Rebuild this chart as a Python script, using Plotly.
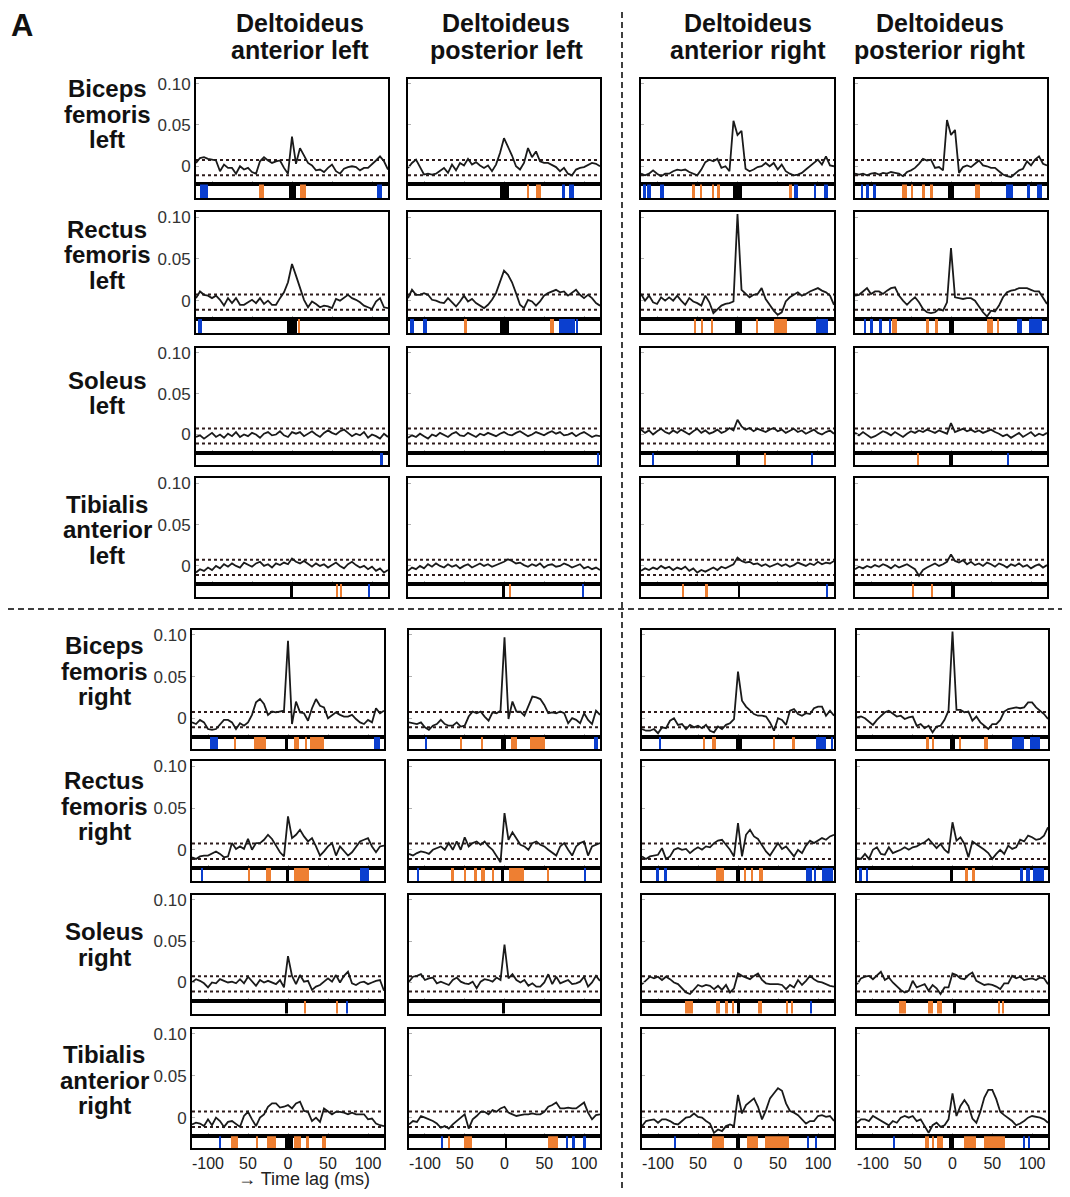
import plotly.graph_objects as go

# ---------------- data ----------------
LAGS = list(range(-120, 121, 5))          # time lag (ms)
X_RANGE = [-120, 120]
Y_RANGE = [-0.022, 0.106]
THR_HI = 0.0075                           # significance limits
THR_LO = -0.011
Y_TICKS = [0, 0.05, 0.10]
Y_TICKTEXT = ["0", "0.05", "0.10"]
X_TICKS = [-100, -50, 0, 50, 100]
X_TICKTEXT = ["-100", "50", "0", "50", "100"]

COL_TITLES = [["Deltoideus", "anterior left"], ["Deltoideus", "posterior left"],
              ["Deltoideus", "anterior right"], ["Deltoideus", "posterior right"]]
ROW_TITLES = [["Biceps", "femoris", "left"], ["Rectus", "femoris", "left"],
              ["Soleus", "left"], ["Tibialis", "anterior", "left"],
              ["Biceps", "femoris", "right"], ["Rectus", "femoris", "right"],
              ["Soleus", "right"], ["Tibialis", "anterior", "right"]]

# cross-correlation values (x 1e-3), one list per deltoid column
BF_L = [
    [4,10,11,9,8,7,-6,2,-2,-2,-9,0,-4,-2,-7,-9,6,11,7,4,6,7,-2,-9,36,3,22,12,4,1,-5,-4,-7,-2,2,-6,-9,-3,-1,0,-1,-5,-2,-2,2,7,12,6,-4],
    [-2,4,8,-2,-10,-9,-10,-9,-6,-2,-8,2,-5,4,1,9,2,5,1,-2,1,-6,2,16,34,24,13,0,-4,4,22,11,18,6,4,4,1,-1,-6,-2,-9,-11,-4,-2,-1,2,4,3,0],
    [-9,-11,-9,-5,-9,-12,-9,-9,-6,-4,-5,-4,-7,-9,-11,-4,5,8,6,9,-2,0,-6,55,38,43,-3,-6,-4,-1,0,4,0,4,-4,2,-6,-9,-11,-10,-8,-4,0,4,8,2,12,1,0],
    [-9,-10,-9,-11,-9,-8,-10,-8,-9,-7,-8,-9,-12,-7,-5,-2,3,9,7,8,-2,-1,-5,56,38,44,-8,-1,1,-1,3,7,1,0,-2,-2,-6,-10,-12,-13,-9,-5,-3,6,1,8,12,3,1],
]
RF_L = [
    [3,11,7,6,3,6,1,-6,3,-3,3,-5,-5,-2,1,-3,3,-4,0,-5,-5,3,10,22,44,30,14,1,-8,-1,-4,-8,-6,-7,-9,2,0,3,7,3,1,-2,-6,-8,-10,-1,3,-8,-9],
    [3,13,7,7,9,7,1,0,-2,-3,3,-2,-7,-1,6,-1,2,-3,-6,-9,-5,1,9,22,36,31,22,9,-5,-9,1,-1,-6,-1,6,9,11,13,10,11,6,10,13,7,3,7,3,-3,-6],
    [8,0,6,-2,-4,4,0,4,0,6,0,-5,3,-1,-3,-6,6,-2,-15,-10,-6,-4,-3,-1,104,13,8,4,7,8,15,2,-5,-12,-17,-14,-1,4,7,10,6,8,11,13,15,12,10,6,-5],
    [6,7,11,15,8,11,11,8,12,15,16,6,0,-5,0,4,-2,-10,-14,-15,-14,-10,-12,-2,63,4,3,2,3,3,0,-7,-14,-19,-12,-13,-6,4,10,12,13,15,15,15,13,11,11,4,-4],
]
SOL_L = [
    [-3,-1,-5,-2,2,-3,0,-4,1,-2,3,-3,0,-2,2,0,-4,1,3,-1,0,4,-1,-3,3,1,3,-2,1,4,0,-3,2,5,2,0,4,6,2,-2,1,-1,3,-4,0,-2,-5,1,-3],
    [-4,-1,-3,1,-2,-5,0,-2,2,-1,-3,1,3,-1,-2,2,0,-3,1,-1,2,0,-2,1,3,0,-1,2,4,1,-2,0,3,1,-1,2,4,1,3,-1,0,2,-2,1,3,0,-3,-1,-2],
    [6,2,5,0,4,7,3,1,5,2,6,3,0,4,7,2,5,1,3,6,2,4,8,5,18,10,6,8,4,7,5,3,6,8,4,6,2,5,7,3,5,1,4,6,2,0,3,5,1],
    [2,-1,3,0,-4,-2,1,4,2,-1,3,0,-3,1,4,2,5,3,6,4,2,5,3,1,14,3,5,7,4,6,3,5,2,4,6,3,1,-2,0,-4,-1,2,-3,0,3,-2,1,-1,2],
]
TA_L = [
    [-8,-4,-6,-2,-5,0,-3,2,-1,3,0,-2,4,1,-1,3,5,0,2,-2,3,1,4,2,9,5,3,6,2,-1,3,0,2,-2,1,4,0,-3,2,5,1,-2,0,-4,-1,-6,-3,-8,-5],
    [-6,-2,-4,0,-3,2,-1,3,0,-2,2,-1,1,-3,0,2,-2,1,3,0,2,-1,1,3,5,8,6,3,4,1,-1,2,0,3,-2,1,2,-1,0,3,1,-2,0,2,-3,-1,-4,-2,-5],
    [-6,-3,-5,-2,-4,0,-3,-1,-5,-2,-4,-1,-6,-3,-8,-5,-7,-4,-2,-5,-1,-3,0,2,10,6,4,5,2,3,0,2,-1,1,3,0,2,-1,1,4,2,0,3,1,5,2,4,3,6],
    [-4,-1,-3,0,-2,1,-1,2,0,-3,1,-2,0,2,-1,-4,-12,-5,-2,1,3,0,2,5,14,6,4,7,2,5,1,3,0,4,2,-1,3,1,-2,2,0,3,-1,1,-3,0,2,-2,1],
]
BF_R = [
    [-5,-7,-2,-5,-13,-14,-13,-7,-2,-2,-5,-13,-6,-9,-5,4,19,23,17,4,8,7,8,9,93,-7,20,7,6,-3,12,23,15,13,0,3,7,4,2,2,4,-1,-5,-7,-2,-5,12,6,9],
    [-5,-6,-7,-5,-11,-14,-9,-7,-2,-7,-9,-9,-5,-10,-9,2,8,6,8,2,-3,7,6,9,97,-1,20,8,8,3,14,26,25,23,16,6,7,6,8,6,-6,0,-2,-6,6,-2,-7,9,4],
    [-13,-15,-15,-13,-18,-11,-12,-3,0,-8,-7,-13,-8,-11,-9,-12,-8,-15,-17,-10,-13,-8,-6,-1,56,21,14,9,5,3,3,2,-5,-15,0,-2,-8,9,11,5,3,6,5,12,14,14,3,9,3],
    [1,2,0,-4,-8,-2,3,7,9,5,2,3,-1,1,2,-9,-7,-12,-9,-17,-10,-9,-2,9,104,10,10,7,8,-3,2,-5,-9,-13,-7,-7,-2,8,11,12,13,12,13,19,19,13,9,5,-1],
]
RF_R = [
    [-9,-11,-8,-7,-7,-4,-2,-5,-9,-8,8,1,4,1,13,0,8,8,12,18,13,5,-3,-8,40,14,18,24,16,10,14,4,-7,-2,4,8,-7,4,-2,-7,-3,4,10,12,14,4,-3,4,5],
    [-5,-7,-4,-2,-3,-5,0,2,4,0,8,0,10,0,15,4,8,10,6,10,4,0,-7,-15,44,12,21,14,6,4,0,8,10,6,4,0,-3,-7,4,8,0,-7,4,8,10,-7,4,6,8],
    [-8,-11,-8,-7,-6,2,-11,-8,0,2,0,1,-4,0,3,0,4,3,8,11,12,6,0,-8,32,-8,18,24,16,13,6,-2,-7,0,8,1,4,-2,-8,0,-4,5,11,8,11,14,12,16,18],
    [-10,-11,-5,-11,0,3,-5,-6,3,-4,-2,0,3,0,3,4,7,9,13,7,2,7,0,-4,33,11,15,7,-9,10,7,3,0,-4,-11,-5,0,-5,5,1,3,12,10,17,15,12,13,17,27],
]
SOL_R = [
    [0,4,2,-1,-6,0,-1,4,2,0,1,-1,4,-1,7,1,-4,3,0,2,0,-2,3,-6,32,8,-2,9,1,2,-9,-5,-3,1,5,1,9,0,8,13,-1,-3,0,1,-2,0,2,3,-10],
    [1,7,8,10,3,5,6,-1,1,-1,-3,3,6,1,-1,-2,1,-7,1,4,3,1,6,3,46,5,10,3,0,3,-4,-1,-5,-5,0,10,-2,7,-1,1,3,-2,-1,1,7,-5,0,8,2],
    [-2,3,7,5,7,3,7,4,0,-2,-7,-12,-14,-8,-3,-5,-3,-4,-8,-4,-9,-3,-12,-7,11,8,6,4,8,11,3,-1,-2,-2,-2,-3,-8,-3,-6,3,-3,2,8,4,1,0,-2,-4,-5],
    [-2,5,7,8,4,9,13,3,6,0,-5,-9,-12,-10,2,-6,-4,-2,-10,-3,-7,-14,-6,-6,11,9,5,4,9,12,2,-1,-3,-2,-3,-5,-8,-1,-1,8,5,7,3,4,5,3,6,5,-2],
]
TA_R = [
    [-8,-6,-7,-10,-2,-9,0,-4,-11,-5,-4,-7,-11,2,7,-2,-10,0,4,13,17,17,12,13,15,11,17,19,8,7,-4,0,-5,11,7,4,7,7,6,4,6,4,4,4,-2,-1,-7,-9,-10],
    [-8,-4,-5,2,0,-2,-4,-7,-12,-10,-13,-8,-4,0,4,-13,-2,2,7,7,4,9,7,11,13,6,4,2,3,4,4,5,4,4,7,13,15,18,11,11,12,11,11,15,18,6,-2,3,4],
    [-10,-4,-3,-2,-6,-2,-2,-4,-7,-8,-4,0,1,5,1,0,-4,-7,-18,-14,-16,-10,-8,-10,27,5,15,19,23,13,-2,9,23,29,35,32,17,8,6,3,-2,-7,-4,-4,2,3,1,2,-4],
    [-6,-2,-2,-4,2,-1,-4,-7,-9,-4,-6,0,2,0,2,-4,-2,-10,-18,-9,-6,-11,-9,-2,29,2,14,21,14,-1,-6,7,24,33,33,22,7,3,0,-4,-9,-7,-4,0,2,1,0,-2,-6],
]
XCORR = [BF_L, RF_L, SOL_L, TA_L, BF_R, RF_R, SOL_R, TA_R]

# significance strips: lag intervals [start, end] (ms)
BLUE = [
    [[[-115,-105],[106,112]], [[72,76],[81,88]], [[-117,-114],[-112,-107],[-96,-91],[70,75],[96,98],[107,112]], [[-113,-110],[-106,-103],[-97,-94],[69,78],[95,99],[107,114]]],
    [[[-118,-113]], [[-117,-112],[-101,-96],[69,89],[91,93]], [[98,113]], [[-109,-106],[-101,-97],[-90,-86],[-77,-76],[82,89],[98,114]]],
    [[[110,114]], [[116,119]], [[-106,-104],[92,93]], [[71,72]]],
    [[[95,97]], [[98,100]], [[111,113]], []],
    [[[-98,-87],[108,115]], [[-100,-97],[112,118]], [[-99,-96],[97,110],[116,119]], [[75,90],[97,110]]],
    [[[-109,-106],[90,101]], [[-110,-107],[100,102]], [[-102,-99],[-92,-89],[85,92],[96,98],[105,119]], [[-117,-114],[-108,-106],[85,88],[92,98],[101,115]]],
    [[[72,75]], [], [[91,93]], []],
    [[[-86,-84]], [[-80,-77],[78,80],[86,88],[99,103]], [[-80,-78],[87,89],[96,99]], [[-74,-73],[89,91],[95,98]]],
]
ORANGE = [
    [[[-41,-35],[10,18]], [[29,31],[40,46]], [[-57,-53],[-46,-44],[-32,-29],[-25,-22],[64,68]], [[-61,-55],[-49,-47],[-36,-33],[-26,-22],[30,36]]],
    [[[8,10]], [[-50,-46],[58,62]], [[-54,-51],[-46,-43],[-33,-30],[24,26],[45,61]], [[-74,-67],[-31,-28],[-20,-16],[45,52],[58,60]]],
    [[], [], [[33,35]], [[-42,-40]]],
    [[[55,57],[60,62]], [[7,9]], [[-69,-67],[-41,-37]], [[-48,-46],[-25,-23]]],
    [[[-67,-66],[-43,-28],[7,14],[22,24],[28,45]], [[-55,-53],[-30,-27],[8,16],[32,51]], [[-44,-41],[-33,-28],[44,46],[67,71]], [[-33,-30],[-26,-23],[9,11],[40,45]]],
    [[[-50,-47],[-27,-21],[7,26]], [[-67,-63],[-51,-48],[-38,-35],[-30,-25],[-16,-13],[6,25],[53,56]], [[-27,-18],[8,10],[17,19],[26,31]], [[16,19],[24,28]]],
    [[[21,23],[60,62]], [], [[-66,-56],[-27,-22],[-16,-12],[-8,-5],[25,30],[60,62],[67,69]], [[-67,-58],[-31,-25],[-19,-13],[58,60],[63,65]]],
    [[[-71,-63],[-40,-37],[-26,-15],[8,16],[22,26],[43,48]], [[-71,-68],[-51,-41],[55,67]], [[-33,-17],[11,25],[34,64]], [[-35,-29],[-25,-23],[-19,-12],[15,29],[40,66]]],
]
BLACK = [
    [[[-4,5]], [[-5,6]], [[-5,5]], [[-4,4]]],
    [[[-6,6]], [[-5,6]], [[-3,5]], [[-3,4]]],
    [[], [], [[-2,3]], [[-2,2]]],
    [[[-2,1]], [[-2,1]], [[0,3]], [[0,5]]],
    [[[-4,0]], [[-4,2]], [[-2,5]], [[-3,3]]],
    [[[-3,1]], [[-4,-1]], [[-2,2]], [[-3,0]]],
    [[[-4,0]], [[-3,0]], [[-1,3]], [[1,5]]],
    [[[-4,6]], [[1,3]], [[-3,2]], [[-4,2]]],
]

for grp in XCORR:
    for s in grp:
        assert len(s) == len(LAGS), len(s)

# ---------------- geometry (page pixels) ----------------
PAGE_W, PAGE_H = 1070, 1197
BODY_MARGIN = 8                       # default html body margin
W, H = PAGE_W - 2 * BODY_MARGIN, PAGE_H - 2 * BODY_MARGIN
ROW_PX = [(75, 181, 195), (209, 316, 330), (345, 450, 463), (476, 582, 595),
          (628, 735, 748), (760, 867, 880), (894, 1000, 1013), (1028, 1136, 1148)]
COL_PX_TOP = [(196, 388), (408, 600), (641, 834), (855, 1047)]
COL_PX_BOT = [(192, 384), (409, 600), (642, 834), (857, 1048)]
ROW_LABEL_Y = [[88, 114, 139], [229, 254, 280], [381, 406], [505, 530, 556],
               [647, 673, 698], [782, 808, 833], [934, 960], [1057, 1083, 1108]]
COL_CENTERS = [300, 506, 748, 940]
HEADER_Y = [19, 46]
ROW_NUDGE = -3                         # vertical correction for label baselines

FONT = "Liberation Sans, Arial, Helvetica, sans-serif"
C_BLUE = "#0b3fcf"
C_ORANGE = "#ee7f32"
C_LINE = "#1a1a1a"
C_THR = "#2e1c1c"


def fx(p):
    return (p - BODY_MARGIN) / W


def fy(p):
    return 1 - (p - BODY_MARGIN) / H


fig = go.Figure()
layout_axes = {}

for r in range(8):
    top, bot, sbot = ROW_PX[r]
    cols = COL_PX_TOP if r < 4 else COL_PX_BOT
    for c in range(4):
        left, right = cols[c]
        idx = r * 4 + c
        n_main = 2 * idx + 1
        n_strip = 2 * idx + 2
        xm = "x" if n_main == 1 else f"x{n_main}"
        ym = "y" if n_main == 1 else f"y{n_main}"
        xs, ys = f"x{n_strip}", f"y{n_strip}"

        vals = [v / 1000 for v in XCORR[r][c]]
        for thr in (THR_HI, THR_LO):
            fig.add_trace(go.Scatter(x=X_RANGE, y=[thr, thr], mode="lines",
                                     line=dict(color=C_THR, width=2, dash="dot"),
                                     xaxis=xm, yaxis=ym, hoverinfo="skip"))
        fig.add_trace(go.Scatter(x=LAGS, y=vals, mode="lines",
                                 line=dict(color=C_LINE, width=1.8),
                                 xaxis=xm, yaxis=ym))

        for ivs, col in ((BLUE[r][c], C_BLUE), (ORANGE[r][c], C_ORANGE), (BLACK[r][c], "#000000")):
            if not ivs:
                continue
            fig.add_trace(go.Bar(x=[(a + b) / 2 for a, b in ivs],
                                 width=[b - a for a, b in ivs],
                                 y=[1] * len(ivs), base=0,
                                 marker=dict(color=col, line=dict(width=0)),
                                 xaxis=xs, yaxis=ys, hoverinfo="skip"))

        frame = dict(showline=True, linecolor="black", linewidth=2, mirror=True,
                     showgrid=False, zeroline=False, fixedrange=True)
        layout_axes["xaxis" if n_main == 1 else f"xaxis{n_main}"] = dict(
            domain=[fx(left), fx(right)], range=X_RANGE, anchor=ym,
            ticks="inside", ticklen=3, tickwidth=1, tickcolor="#b0b0b0",
            tickvals=X_TICKS, showticklabels=False, **frame)
        layout_axes["yaxis" if n_main == 1 else f"yaxis{n_main}"] = dict(
            domain=[fy(bot), fy(top)], range=Y_RANGE, anchor=xm,
            ticks="inside", ticklen=3, tickwidth=1, tickcolor="#b0b0b0",
            tickvals=Y_TICKS, ticktext=Y_TICKTEXT, showticklabels=(c == 0),
            tickfont=dict(family=FONT, size=17, color="#333333"), **frame)
        layout_axes[f"xaxis{n_strip}"] = dict(
            domain=[fx(left), fx(right)], range=X_RANGE, anchor=ys,
            ticks="", tickvals=X_TICKS, ticktext=X_TICKTEXT,
            showticklabels=(r == 7),
            tickfont=dict(family=FONT, size=16, color="#222222"), **frame)
        layout_axes[f"yaxis{n_strip}"] = dict(
            domain=[fy(sbot), fy(bot)], range=[0, 1], anchor=xs,
            ticks="", showticklabels=False, **frame)

annotations = []
for c, lines in enumerate(COL_TITLES):
    for k, t in enumerate(lines):
        annotations.append(dict(text=t, x=fx(COL_CENTERS[c]), y=fy(HEADER_Y[k]),
                                xref="paper", yref="paper", showarrow=False,
                                xanchor="center", yanchor="middle",
                                font=dict(family=FONT, size=25, color="#111111", weight="bold")))
for r, lines in enumerate(ROW_TITLES):
    xc = 107 if r < 4 else 104
    for k, t in enumerate(lines):
        annotations.append(dict(text=t, x=fx(xc), y=fy(ROW_LABEL_Y[r][k] + ROW_NUDGE),
                                xref="paper", yref="paper", showarrow=False,
                                xanchor="center", yanchor="middle",
                                font=dict(family=FONT, size=24, color="#111111", weight="bold")))
annotations.append(dict(text="A", x=fx(22), y=fy(22), xref="paper", yref="paper",
                        showarrow=False, xanchor="center", yanchor="middle",
                        font=dict(family=FONT, size=31, color="#111111", weight="bold")))
annotations.append(dict(text="\u2192 Time lag (ms)", x=fx(304), y=0, xref="paper",
                        yref="paper", showarrow=False, xanchor="center", yanchor="bottom",
                        yshift=-2,
                        font=dict(family=FONT, size=18, color="#222222")))

shapes = [
    dict(type="line", xref="paper", yref="paper", x0=fx(622), x1=fx(622), y0=fy(8), y1=fy(1189),
         line=dict(color="black", width=1.5, dash="6px,4px")),
    dict(type="line", xref="paper", yref="paper", x0=fx(8), x1=fx(1062), y0=fy(607), y1=fy(607),
         line=dict(color="black", width=1.5, dash="6px,4px")),
]

fig.update_layout(width=W, height=H, autosize=False,
                  margin=dict(l=0, r=0, t=0, b=0),
                  paper_bgcolor="white", plot_bgcolor="white",
                  showlegend=False, barmode="overlay", bargap=0,
                  annotations=annotations, shapes=shapes,
                  font=dict(family=FONT), **layout_axes)

fig.write_html("out.html")
